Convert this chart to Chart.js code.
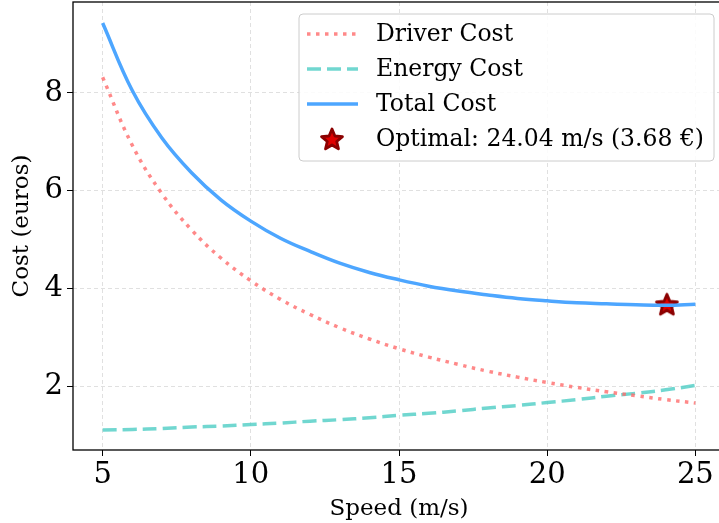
<!DOCTYPE html>
<html>
<head>
<meta charset="utf-8">
<script src="https://cdn.jsdelivr.net/npm/chart.js@4"></script>
<style>
  html, body { margin: 0; padding: 0; background: #fff; overflow: hidden; }
  #wrap { width: 730px; height: 523px; }
</style>
</head>
<body>
<div id="wrap"><canvas id="grafico" width="730" height="523"></canvas></div>
<script>
// valores (velocidade em m/s, custos em euros)
const speeds = [5, 6, 7, 8, 9, 10, 11, 12, 13, 14, 15, 16, 17, 18, 19, 20, 21, 22, 23, 24, 25];
const driverCost = [8.32, 6.93, 5.94, 5.20, 4.62, 4.16, 3.78, 3.47, 3.20, 2.97, 2.77, 2.60, 2.45, 2.31, 2.19, 2.08, 1.98, 1.89, 1.81, 1.73, 1.66];
const energyCost = [1.11, 1.12, 1.14, 1.17, 1.19, 1.22, 1.25, 1.29, 1.32, 1.36, 1.41, 1.45, 1.50, 1.56, 1.61, 1.67, 1.73, 1.80, 1.86, 1.93, 2.02];
const totalCost = [9.43, 8.05, 7.08, 6.37, 5.81, 5.38, 5.03, 4.76, 4.52, 4.33, 4.18, 4.05, 3.95, 3.87, 3.80, 3.75, 3.71, 3.69, 3.67, 3.66, 3.68];
const optimalSpeed = 24.04;
const optimalCost = 3.68;
const xTicks = [5, 10, 15, 20, 25];
const yTicks = [2, 4, 6, 8];

const serif = "'DejaVu Serif', serif";

const pts = arr => speeds.map((s, i) => ({x: s, y: arr[i]}));

// estrela de 5 pontas para o ponto ótimo
function starImage(r) {
  const c = document.createElement('canvas');
  const size = Math.ceil(r * 2 + 6);
  c.width = size; c.height = size;
  const g = c.getContext('2d');
  const cx = size / 2, cy = size / 2 + 1;
  g.beginPath();
  for (let i = 0; i < 10; i++) {
    const rad = i % 2 === 0 ? r : r * 0.45;
    const a = -Math.PI / 2 + i * Math.PI / 5;
    g.lineTo(cx + rad * Math.cos(a), cy + rad * Math.sin(a));
  }
  g.closePath();
  g.fillStyle = '#e00000';
  g.fill();
  g.lineJoin = 'round';
  g.lineWidth = 2.8;
  g.strokeStyle = '#8b0000';
  g.stroke();
  return c;
}
const star = starImage(11);

// moldura e legenda no estilo matplotlib
const molduraLegenda = {
  id: 'molduraLegenda',
  afterDraw(chart) {
    const {ctx, chartArea: a} = chart;
    ctx.save();
    ctx.strokeStyle = '#000';
    ctx.lineWidth = 1.3;
    ctx.strokeRect(a.left, a.top, a.right - a.left, a.bottom - a.top);

    const bx = 299, by = 14, bw = 415, bh = 147;
    ctx.beginPath();
    ctx.roundRect(bx, by, bw, bh, 4);
    ctx.fillStyle = 'rgba(255,255,255,0.85)';
    ctx.fill();
    ctx.strokeStyle = '#cccccc';
    ctx.lineWidth = 1;
    ctx.stroke();

    ctx.font = '23.5px ' + serif;
    ctx.textBaseline = 'middle';
    ctx.fillStyle = '#000';
    chart.data.datasets.forEach((ds, i) => {
      const y = by + 20 + i * 35;
      if (ds.showLine === false) {
        ctx.drawImage(star, 332 - star.width / 2, y - star.height / 2);
      } else {
        ctx.beginPath();
        ctx.setLineDash(ds.borderDash || []);
        ctx.lineCap = 'butt';
        ctx.lineWidth = ds.borderWidth;
        ctx.strokeStyle = ds.borderColor;
        ctx.moveTo(307, y);
        ctx.lineTo(358, y);
        ctx.stroke();
        ctx.setLineDash([]);
      }
      ctx.fillText(ds.label, 376, y + 1);
    });
    ctx.restore();
  }
};

new Chart(grafico, {
  type: 'line',
  data: {
    datasets: [
      {label: 'Driver Cost', data: pts(driverCost), borderColor: 'rgba(255,107,107,0.8)', borderWidth: 3.5, borderDash: [3.5, 5.5], pointRadius: 0, tension: 0.4},
      {label: 'Energy Cost', data: pts(energyCost), borderColor: 'rgba(78,205,196,0.8)', borderWidth: 3.5, borderDash: [14, 6], pointRadius: 0, tension: 0.4},
      {label: 'Total Cost', data: pts(totalCost), borderColor: '#4da6ff', borderWidth: 3.5, pointRadius: 0, tension: 0.4},
      {label: `Optimal: ${optimalSpeed.toFixed(2)} m/s (${optimalCost.toFixed(2)} €)`, data: [{x: optimalSpeed, y: optimalCost}], showLine: false, pointStyle: star, pointRadius: 11, borderColor: '#8b0000', backgroundColor: '#e00000'}
    ]
  },
  options: {
    responsive: false,
    animation: false,
    layout: {autoPadding: false, padding: {top: 2, right: 5, left: 0, bottom: 0}},
    plugins: {legend: {display: false}, tooltip: {enabled: false}},
    scales: {
      x: {
        type: 'linear', min: 4, max: 26,
        afterBuildTicks: s => { s.ticks = xTicks.map(v => ({value: v})); },
        afterFit: s => { s.height = 73; s.paddingLeft = 0; s.paddingRight = 0; },
        ticks: {color: '#000', font: {family: serif, size: 29}, padding: 2, maxRotation: 0},
        grid: {color: '#e0e0e0', tickColor: '#000', tickLength: 6, tickBorderDash: [], lineWidth: 1},
        border: {display: false, dash: [4, 3]},
        title: {display: true, text: 'Speed (m/s)', color: '#000', font: {family: serif, size: 23}, padding: 0}
      },
      y: {
        min: 0.7, max: 9.86,
        afterBuildTicks: s => { s.ticks = yTicks.map(v => ({value: v})); },
        afterFit: s => { s.width = 73; s.paddingTop = 0; s.paddingBottom = 0; },
        ticks: {color: '#000', font: {family: serif, size: 29}, padding: 4},
        grid: {color: '#e0e0e0', tickColor: '#000', tickLength: 6, tickBorderDash: [], lineWidth: 1},
        border: {display: false, dash: [4, 3]},
        title: {display: true, text: 'Cost (euros)', color: '#000', font: {family: serif, size: 23}, padding: {top: 8, bottom: 0}}
      }
    }
  },
  plugins: [molduraLegenda]
});
</script>
</body>
</html>
